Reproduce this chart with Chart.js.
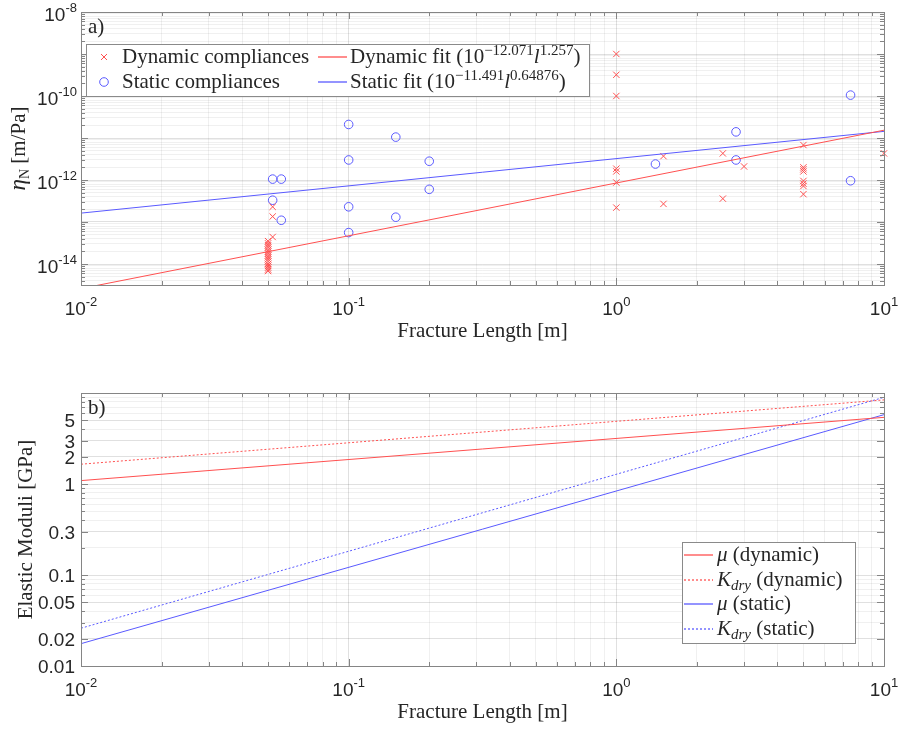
<!DOCTYPE html>
<html>
<head>
<meta charset="utf-8">
<script src="https://cdn.jsdelivr.net/npm/chart.js@4.4.0/dist/chart.umd.min.js"></script>
<style>
  html, body { margin: 0; padding: 0; background: #fff; }
  #wrap { position: relative; width: 899px; height: 729px; }
  canvas { position: absolute; left: 0; }
</style>
</head>
<body>
<div id="wrap">
  <canvas id="compliance" width="899" height="365" style="top:0"></canvas>
  <canvas id="moduli" width="899" height="364" style="top:365px"></canvas>
</div>
<script>
// ---- panel a) fracture compliance vs length ----
const dynLength = [
  0.05, 0.05, 0.05, 0.05, 0.05, 0.05, 0.05, 0.05, 0.05, 0.05, 0.05, 0.05, 0.05, 0.05, 0.05, 0.05,
  0.052, 0.052, 0.052,
  1, 1, 1, 1, 1, 1, 1,
  1.5, 1.5, 2.5, 2.5, 3,
  5, 5, 5, 5, 5, 5, 5, 5,
  10
];
const dynCompliance = [
  3.5e-14, 3.1e-14, 2.8e-14, 2.5e-14, 2.2e-14, 2.0e-14, 1.8e-14, 1.6e-14, 1.45e-14, 1.3e-14, 1.15e-14, 1.0e-14, 9e-15, 8.2e-15, 7.4e-15, 6.8e-15,
  2.3e-13, 1.35e-13, 4.4e-14,
  1e-9, 3.2e-10, 1e-10, 1.86e-12, 1.6e-12, 8.7e-13, 2.2e-13,
  3.7e-12, 2.7e-13, 4.3e-12, 3.6e-13, 2.1e-12,
  6.8e-12, 2.0e-12, 1.8e-12, 1.6e-12, 9.5e-13, 8.2e-13, 7.2e-13, 4.6e-13,
  4.3e-12
];
const staLength = [0.052, 0.056, 0.052, 0.056, 0.1, 0.1, 0.1, 0.1, 0.15, 0.15, 0.2, 0.2, 1.4, 2.8, 2.8, 7.5, 7.5];
const staCompliance = [
  1.05e-12, 1.05e-12, 3.3e-13, 1.1e-13, 2.1e-11, 3.0e-12, 2.3e-13, 5.6e-14,
  1.05e-11, 1.3e-13, 2.8e-12, 6.0e-13, 2.4e-12, 1.4e-11, 3.0e-12, 1.05e-10, 9.6e-13
];
// power-law fits: log10(eta) = a + b*log10(l)
const dynFit = { a: -12.071, b: 1.257 };
const staFit = { a: -11.491, b: 0.64876 };

// ---- panel b) elastic moduli vs length (end values in GPa) ----
const lengthEnds = [0.01, 10];
const muDynamic = [1.09, 5.4];
const kDryDynamic = [1.65, 8.4];
const muStatic = [0.0176, 5.78];
const kDryStatic = [0.026, 8.97];

// axis ranges and labelled ticks
const xRange = [0.01, 10];
const xTicks = [0.01, 0.1, 1, 10];
const xTickExp = ['-2', '-1', '0', '1'];
const etaRange = [Math.pow(10, -14.5), 1e-8];
const etaTicks = [1e-14, 1e-12, 1e-10, 1e-8];
const etaTickExp = ['-14', '-12', '-10', '-8'];
const etaDecades = [1e-14, 1e-13, 1e-12, 1e-11, 1e-10, 1e-9, 1e-8];
const modRange = [0.01, 10];
const modTicks = [0.01, 0.02, 0.05, 0.1, 0.3, 1, 2, 3, 5];
const modTickLabels = ['0.01', '0.02', '0.05', '0.1', '0.3', '1', '2', '3', '5'];

const SANS = '"Liberation Sans", Arial, sans-serif';
const SERIF = '"Liberation Serif", "Times New Roman", serif';
const TEXT = '#262626';
const FRAME = '#858585';
const GRID_MAJOR = 'rgba(0,0,0,0.12)';
const GRID_MINOR = 'rgba(0,0,0,0.06)';
const RED = 'rgb(255,80,80)';
const BLUE = 'rgb(90,90,255)';

const fitPoints = f => lengthEnds.map(l => ({ x: l, y: Math.pow(10, f.a + f.b * Math.log10(l)) }));
const zip = (xs, ys) => xs.map((x, i) => ({ x, y: ys[i] }));
const sameVal = (u, v) => Math.abs(Math.log10(u / v)) < 1e-6;
const inList = (list, v) => list.some(u => sameVal(u, v));

// 1..9 x 10^n positions inside a range
function logPositions(min, max) {
  const out = [];
  for (let n = Math.floor(Math.log10(min)); n <= Math.ceil(Math.log10(max)); n++) {
    for (let k = 1; k <= 9; k++) {
      const v = parseFloat((k * Math.pow(10, n)).toPrecision(12));
      if (v >= min * (1 - 1e-9) && v <= max * (1 + 1e-9)) out.push(v);
    }
  }
  return out;
}

// draw a run of text pieces with different fonts / offsets
function drawRuns(ctx, parts, x, y, align) {
  let w = 0;
  parts.forEach(p => { ctx.font = p.f; w += ctx.measureText(p.t).width; });
  let cx = align === 'center' ? x - w / 2 : align === 'right' ? x - w : x;
  ctx.textAlign = 'left';
  ctx.textBaseline = 'alphabetic';
  parts.forEach(p => {
    ctx.font = p.f;
    ctx.fillText(p.t, cx, y + (p.dy || 0));
    cx += ctx.measureText(p.t).width;
  });
}

const f = (size, fam, style) => (style ? style + ' ' : '') + size + 'px ' + fam;

function logAxis(range, major, width, height) {
  return {
    type: 'logarithmic',
    min: range[0],
    max: range[1],
    bounds: 'data',
    afterBuildTicks: s => { s.ticks = logPositions(range[0], range[1]).map(value => ({ value })); },
    afterFit: s => {
      if (width !== undefined) s.width = width;
      if (height !== undefined) s.height = height;
    },
    ticks: { display: false },
    border: { display: false },
    grid: {
      drawTicks: false,
      lineWidth: 1,
      color: c => (c.tick && inList(major, c.tick.value)) ? GRID_MAJOR : GRID_MINOR
    }
  };
}

// box with inward ticks on all four sides
function drawFrame(chart, xMajor, yMajor) {
  const { ctx, chartArea: a, scales: { x, y } } = chart;
  ctx.save();
  ctx.strokeStyle = FRAME;
  ctx.lineWidth = 1;
  ctx.beginPath();
  x.ticks.forEach(t => {
    const px = Math.round(x.getPixelForValue(t.value)) + 0.5;
    const len = inList(xMajor, t.value) ? 7 : 4;
    ctx.moveTo(px, a.bottom); ctx.lineTo(px, a.bottom - len);
    ctx.moveTo(px, a.top); ctx.lineTo(px, a.top + len);
  });
  y.ticks.forEach(t => {
    const py = Math.round(y.getPixelForValue(t.value)) + 0.5;
    const len = inList(yMajor, t.value) ? 7 : 4;
    ctx.moveTo(a.left, py); ctx.lineTo(a.left + len, py);
    ctx.moveTo(a.right, py); ctx.lineTo(a.right - len, py);
  });
  ctx.stroke();
  ctx.strokeRect(Math.round(a.left) + 0.5, Math.round(a.top) + 0.5,
    Math.round(a.right - a.left), Math.round(a.bottom - a.top));
  ctx.restore();
}

function drawXLabels(chart) {
  const { ctx, chartArea: a, scales: { x } } = chart;
  ctx.fillStyle = TEXT;
  xTicks.forEach((v, i) => {
    drawRuns(ctx, [
      { t: '10', f: f(19, SANS) },
      { t: xTickExp[i], f: f(13, SANS), dy: -9 }
    ], x.getPixelForValue(v), a.bottom + 30, 'center');
  });
  drawRuns(ctx, [{ t: 'Fracture Length [m]', f: f(21, SERIF) }], (a.left + a.right) / 2, a.bottom + 52, 'center');
}

function legendBox(ctx, x0, y0, x1, y1) {
  ctx.fillStyle = '#fff';
  ctx.fillRect(x0, y0, x1 - x0, y1 - y0);
  ctx.strokeStyle = '#8a8a8a';
  ctx.lineWidth = 1;
  ctx.strokeRect(x0 + 0.5, y0 + 0.5, x1 - x0, y1 - y0);
}

// legend line sample, solid or dotted; two soft pixel rows like the plotted lines
function sampleLine(ctx, x0, x1, y, color, dotted) {
  ctx.save();
  ctx.strokeStyle = color;
  ctx.lineWidth = 1.3;
  ctx.setLineDash(dotted ? [2, 2] : []);
  ctx.beginPath();
  ctx.moveTo(x0, y);
  ctx.lineTo(x1, y);
  ctx.stroke();
  ctx.restore();
}

const compliancePlugin = {
  id: 'complianceDecor',
  afterDraw(chart) {
    const { ctx, chartArea: a, scales: { y } } = chart;
    drawFrame(chart, xTicks, etaDecades);
    ctx.save();
    ctx.fillStyle = TEXT;
    etaTicks.forEach((v, i) => {
      drawRuns(ctx, [
        { t: '10', f: f(19, SANS) },
        { t: etaTickExp[i], f: f(13, SANS), dy: -9 }
      ], a.left - 4, y.getPixelForValue(v) + 9, 'right');
    });
    drawXLabels(chart);

    // y title
    ctx.save();
    ctx.translate(25, (a.top + a.bottom) / 2);
    ctx.rotate(-Math.PI / 2);
    drawRuns(ctx, [
      { t: 'η', f: f(23, SERIF, 'italic') },
      { t: 'N', f: f(14, SERIF), dy: 4 },
      { t: ' [m/Pa]', f: f(21, SERIF) }
    ], 0, 0, 'center');
    ctx.restore();

    drawRuns(ctx, [{ t: 'a)', f: f(21, SERIF) }], a.left + 7, a.top + 21, 'left');

    // legend
    legendBox(ctx, 86, 44, 589, 96);
    ctx.save();
    ctx.lineWidth = 1;
    ctx.strokeStyle = RED;
    ctx.beginPath();
    ctx.moveTo(101, 54); ctx.lineTo(107, 60);
    ctx.moveTo(107, 54); ctx.lineTo(101, 60);
    ctx.stroke();
    ctx.strokeStyle = BLUE;
    ctx.beginPath();
    ctx.arc(104, 82, 4.3, 0, Math.PI * 2);
    ctx.stroke();
    ctx.restore();
    sampleLine(ctx, 318, 347, 57, RED);
    sampleLine(ctx, 318, 347, 82, BLUE);
    ctx.fillStyle = TEXT;
    drawRuns(ctx, [{ t: 'Dynamic compliances', f: f(21, SERIF) }], 122, 63, 'left');
    drawRuns(ctx, [{ t: 'Static compliances', f: f(21, SERIF) }], 122, 88, 'left');
    drawRuns(ctx, [
      { t: 'Dynamic fit (10', f: f(21, SERIF) },
      { t: '−12.071', f: f(15, SERIF), dy: -8 },
      { t: 'l', f: f(21, SERIF, 'italic') },
      { t: '1.257', f: f(15, SERIF), dy: -8 },
      { t: ')', f: f(21, SERIF) }
    ], 350, 63, 'left');
    drawRuns(ctx, [
      { t: 'Static fit (10', f: f(21, SERIF) },
      { t: '−11.491', f: f(15, SERIF), dy: -8 },
      { t: 'l', f: f(21, SERIF, 'italic') },
      { t: '0.64876', f: f(15, SERIF), dy: -8 },
      { t: ')', f: f(21, SERIF) }
    ], 350, 88, 'left');
    ctx.restore();
  }
};

const moduliPlugin = {
  id: 'moduliDecor',
  afterDraw(chart) {
    const { ctx, chartArea: a, scales: { y } } = chart;
    drawFrame(chart, xTicks, modTicks);
    ctx.save();
    ctx.fillStyle = TEXT;
    modTicks.forEach((v, i) => {
      drawRuns(ctx, [{ t: modTickLabels[i], f: f(19, SANS) }], a.left - 6, y.getPixelForValue(v) + 7, 'right');
    });
    drawXLabels(chart);

    ctx.save();
    ctx.translate(32, (a.top + a.bottom) / 2);
    ctx.rotate(-Math.PI / 2);
    drawRuns(ctx, [{ t: 'Elastic Moduli [GPa]', f: f(21, SERIF) }], 0, 0, 'center');
    ctx.restore();

    drawRuns(ctx, [{ t: 'b)', f: f(21, SERIF) }], a.left + 7, a.top + 21, 'left');

    // legend
    const top = 542 - 365;
    legendBox(ctx, 682, top, 855, top + 101);
    const rows = [
      { c: RED, d: false, p: [{ t: 'μ', f: f(21, SERIF, 'italic') }, { t: ' (dynamic)', f: f(21, SERIF) }] },
      { c: RED, d: true, p: [{ t: 'K', f: f(21, SERIF, 'italic') }, { t: 'dry', f: f(15, SERIF, 'italic'), dy: 4 }, { t: ' (dynamic)', f: f(21, SERIF) }] },
      { c: BLUE, d: false, p: [{ t: 'μ', f: f(21, SERIF, 'italic') }, { t: ' (static)', f: f(21, SERIF) }] },
      { c: BLUE, d: true, p: [{ t: 'K', f: f(21, SERIF, 'italic') }, { t: 'dry', f: f(15, SERIF, 'italic'), dy: 4 }, { t: ' (static)', f: f(21, SERIF) }] }
    ];
    rows.forEach((r, i) => {
      const cy = top + 13 + i * 24.5;
      sampleLine(ctx, 684, 713, Math.round(cy), r.c, r.d);
      ctx.fillStyle = TEXT;
      drawRuns(ctx, r.p, 717, cy + 6, 'left');
    });
    ctx.restore();
  }
};

const common = {
  responsive: false,
  animation: false,
  events: [],
  plugins: { legend: { display: false }, tooltip: { enabled: false } }
};

new Chart(document.getElementById('compliance'), {
  type: 'scatter',
  data: {
    datasets: [
      {
        label: 'Dynamic fit',
        data: fitPoints(dynFit),
        showLine: true, pointRadius: 0, borderColor: RED, borderWidth: 1, clip: 0
      },
      {
        label: 'Static fit',
        data: fitPoints(staFit),
        showLine: true, pointRadius: 0, borderColor: BLUE, borderWidth: 1, clip: 0
      },
      {
        label: 'Dynamic compliances',
        data: zip(dynLength, dynCompliance),
        pointStyle: 'crossRot', pointRadius: 4.5, borderColor: RED, borderWidth: 1, clip: false
      },
      {
        label: 'Static compliances',
        data: zip(staLength, staCompliance),
        pointStyle: 'circle', pointRadius: 4.3, borderColor: BLUE, backgroundColor: 'rgba(0,0,0,0)', borderWidth: 1, clip: false
      }
    ]
  },
  options: Object.assign({}, common, {
    layout: { padding: { top: 12, right: 15, left: 0, bottom: 0 } },
    scales: {
      x: logAxis(xRange, xTicks, undefined, 80),
      y: logAxis(etaRange, etaDecades, 81, undefined)
    }
  }),
  plugins: [compliancePlugin]
});

new Chart(document.getElementById('moduli'), {
  type: 'scatter',
  data: {
    datasets: [
      { label: 'mu dynamic', data: zip(lengthEnds, muDynamic), borderColor: RED },
      { label: 'Kdry dynamic', data: zip(lengthEnds, kDryDynamic), borderColor: RED, borderDash: [2, 2] },
      { label: 'mu static', data: zip(lengthEnds, muStatic), borderColor: BLUE },
      { label: 'Kdry static', data: zip(lengthEnds, kDryStatic), borderColor: BLUE, borderDash: [2, 2] }
    ].map(d => Object.assign(d, { showLine: true, pointRadius: 0, borderWidth: 1, clip: 0 }))
  },
  options: Object.assign({}, common, {
    layout: { padding: { top: 28, right: 15, left: 0, bottom: 0 } },
    scales: {
      x: logAxis(xRange, xTicks, undefined, 63),
      y: logAxis(modRange, modTicks, 81, undefined)
    }
  }),
  plugins: [moduliPlugin]
});
</script>
</body>
</html>
